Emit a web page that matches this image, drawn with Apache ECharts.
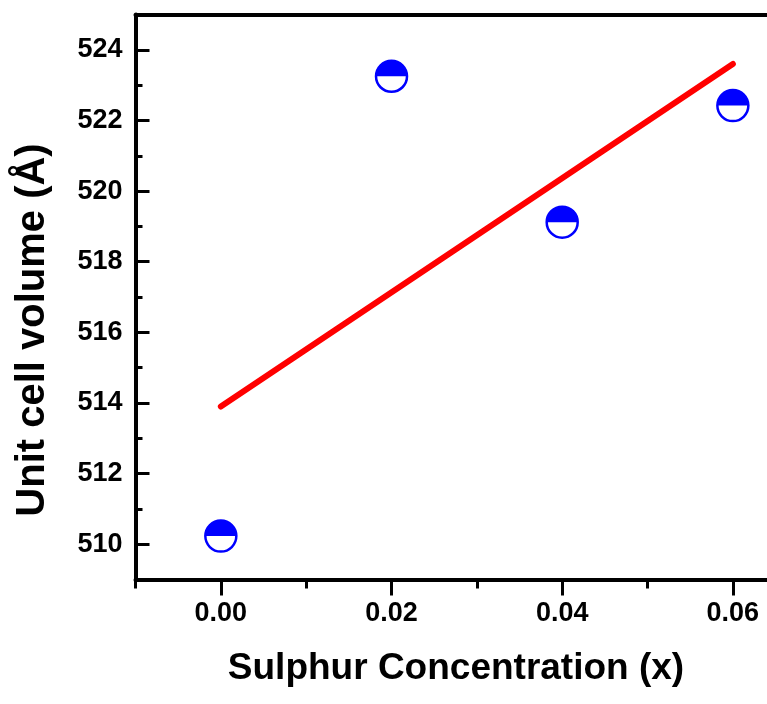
<!DOCTYPE html>
<html>
<head>
<meta charset="utf-8">
<script src="https://cdn.jsdelivr.net/npm/echarts@6/dist/echarts.min.js"></script>
<style>
  html, body { margin: 0; padding: 0; background: #ffffff; }
  #chart { width: 767px; height: 704px; }
</style>
</head>
<body>
<div id="chart"></div>
<script>
// Sulphur concentration vs. unit cell volume
const concentration = [0.00, 0.02, 0.04, 0.06];
const cellVolume = [510.23, 523.25, 519.12, 522.42];

// Linear fit end points
const fitX = [0.00, 0.06];
const fitY = [513.9, 523.6];

// Axis ticks
const xMajorTicks = [0.00, 0.02, 0.04, 0.06];
const xMinorTicks = [-0.01, 0.01, 0.03, 0.05];
const yMajorTicks = [510, 512, 514, 516, 518, 520, 522, 524];
const yMinorTicks = [511, 513, 515, 517, 519, 521, 523];

const xTitle = 'Sulphur Concentration (x)';
const yTitle = 'Unit cell volume (Å)';

const FONT = '"Liberation Sans", Arial, sans-serif';
const BLUE = '#0000ff';

const chart = echarts.init(document.getElementById('chart'));

// the x range is cut at the right edge of the canvas (no right frame)
const xRange = { min: -0.01, max: 0.064 };
const yRange = { min: 509, max: 525 };

const option = {
  animation: false,
  backgroundColor: '#ffffff',
  grid: { left: 135.5, top: 14.5, bottom: 124.5, right: 0, containLabel: false },
  xAxis: [
    {
      type: 'value', position: 'bottom', ...xRange,
      splitLine: { show: false },
      axisLine: { show: true, onZero: false, lineStyle: { color: '#000', width: 4 } },
      axisTick: { show: true, inside: false, length: 16, lineStyle: { color: '#000', width: 3 }, customValues: xMajorTicks },
      axisLabel: {
        show: true, margin: 21, color: '#000', fontFamily: FONT, fontWeight: 'bold', fontSize: 27,
        customValues: xMajorTicks, formatter: v => v.toFixed(2)
      }
    },
    {
      type: 'value', position: 'bottom', ...xRange,
      splitLine: { show: false },
      axisLine: { show: false, onZero: false },
      axisTick: { show: true, inside: false, length: 9, lineStyle: { color: '#000', width: 3 }, customValues: xMinorTicks },
      axisLabel: { show: false }
    },
    {
      type: 'value', position: 'top', ...xRange,
      splitLine: { show: false },
      axisLine: { show: true, onZero: false, lineStyle: { color: '#000', width: 4 } },
      axisTick: { show: false },
      axisLabel: { show: false }
    }
  ],
  yAxis: [
    {
      type: 'value', position: 'left', ...yRange,
      splitLine: { show: false },
      axisLine: { show: true, onZero: false, lineStyle: { color: '#000', width: 4 } },
      axisTick: { show: true, inside: true, length: 14, lineStyle: { color: '#000', width: 3 }, customValues: yMajorTicks },
      axisLabel: {
        show: true, margin: 13, color: '#000', fontFamily: FONT, fontWeight: 'bold', fontSize: 27,
        customValues: yMajorTicks, formatter: v => String(Math.round(v))
      }
    },
    {
      type: 'value', position: 'left', ...yRange,
      splitLine: { show: false },
      axisLine: { show: false, onZero: false },
      axisTick: { show: true, inside: true, length: 7, lineStyle: { color: '#000', width: 3 }, customValues: yMinorTicks },
      axisLabel: { show: false }
    }
  ],
  graphic: [
    {
      type: 'text', x: 456, y: 669,
      style: { text: xTitle, fill: '#000', font: 'bold 37px ' + FONT, align: 'center', verticalAlign: 'middle' }
    },
    {
      type: 'text', x: 33, y: 330, rotation: Math.PI / 2,
      style: { text: yTitle, fill: '#000', font: 'bold 40px ' + FONT, align: 'center', verticalAlign: 'middle' }
    }
  ],
  series: [
    {
      type: 'line',
      xAxisIndex: 0, yAxisIndex: 0,
      data: fitX.map((x, i) => [x, fitY[i]]),
      symbol: 'none',
      lineStyle: { color: '#ff0000', width: 6, cap: 'round' },
      z: 3
    },
    {
      type: 'custom',
      xAxisIndex: 0, yAxisIndex: 0,
      data: concentration.map((x, i) => [x, cellVolume[i]]),
      renderItem: function (params, api) {
        const p = api.coord([api.value(0), api.value(1)]);
        const r = 15.5;
        return {
          type: 'group',
          children: [
            { type: 'circle', shape: { cx: p[0], cy: p[1], r: r }, style: { fill: '#ffffff', stroke: BLUE, lineWidth: 2.5 } },
            { type: 'sector', shape: { cx: p[0], cy: p[1], r0: 0, r: r, startAngle: Math.PI, endAngle: 2 * Math.PI, clockwise: true }, style: { fill: BLUE } }
          ]
        };
      },
      z: 4
    }
  ]
};

chart.setOption(option);
</script>
</body>
</html>
